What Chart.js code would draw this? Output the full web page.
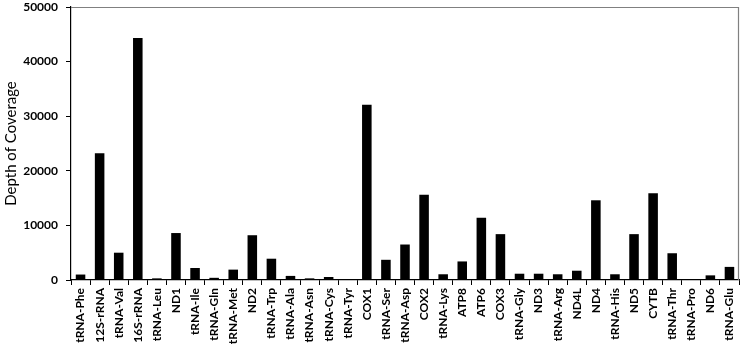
<!DOCTYPE html>
<html>
<head>
<meta charset="utf-8">
<script src="https://cdn.jsdelivr.net/npm/chart.js@4/dist/chart.umd.min.js"></script>
<style>
    html, body { margin: 0; padding: 0; background: #fff; }
    #wrap { width: 743px; height: 345px; position: relative; }
</style>
</head>
<body>
<div id="wrap"><canvas id="myChart" width="743" height="345"></canvas></div>
<script>
const genes = ['tRNA-Phe', '12S-rRNA', 'tRNA-Val', '16S-rRNA', 'tRNA-Leu', 'ND1', 'tRNA-Ile', 'tRNA-Gln',
    'tRNA-Met', 'ND2', 'tRNA-Trp', 'tRNA-Ala', 'tRNA-Asn', 'tRNA-Cys', 'tRNA-Tyr', 'COX1', 'tRNA-Ser',
    'tRNA-Asp', 'COX2', 'tRNA-Lys', 'ATP8', 'ATP6', 'COX3', 'tRNA-Gly', 'ND3', 'tRNA-Arg', 'ND4L', 'ND4',
    'tRNA-His', 'ND5', 'CYTB', 'tRNA-Thr', 'tRNA-Pro', 'ND6', 'tRNA-Glu'];
const coverage = [1000, 23200, 5000, 44300, 300, 8600, 2200, 400,
    1900, 8200, 3900, 750, 300, 550, 0, 32100, 3700,
    6500, 15600, 1050, 3400, 11400, 8400, 1150, 1150, 1050, 1700, 14600,
    1050, 8400, 15900, 4900, 0, 850, 2400];
const yTicks = [0, 10000, 20000, 30000, 40000, 50000];

var myChartObject = document.getElementById('myChart');

// gray frame on top and right of the plot area
const frame = {
    id: 'frame',
    afterDraw(chart) {
        let a = chart.chartArea;
        let ctx = chart.ctx;
        ctx.save();
        ctx.strokeStyle = '#808080';
        ctx.lineWidth = 1.2;
        ctx.beginPath();
        ctx.moveTo(a.left, a.top + 0.5);
        ctx.lineTo(a.right - 0.5, a.top + 0.5);
        ctx.lineTo(a.right - 0.5, a.bottom);
        ctx.stroke();
        ctx.restore();
    }
};

var chart = new Chart(myChartObject, {
    type: 'bar',
    data: {
        labels: genes,
        datasets: [{
            label: 'Depth of Coverage',
            data: coverage,
            backgroundColor: '#000',
            borderWidth: 0,
            barPercentage: 0.5,
            categoryPercentage: 1.0
        }]
    },
    options: {
        responsive: false,
        animation: false,
        layout: { padding: { top: 7, right: 4, left: 0, bottom: 0 } },
        plugins: { legend: { display: false }, tooltip: { enabled: false } },
        scales: {
            x: {
                grid: { display: true, drawOnChartArea: false, color: '#000', tickLength: 5, offset: true },
                border: { color: '#000', width: 1.2 },
                ticks: {
                    color: '#000',
                    font: { family: 'Lato', size: 12, weight: 'bold' },
                    maxRotation: 90, minRotation: 90,
                    autoSkip: false,
                    padding: 3
                },
                afterFit(scale) {
                    scale.height = 65;
                    scale.paddingLeft = 0; scale.paddingRight = 0;
                }
            },
            y: {
                min: 0,
                max: 50000,
                afterBuildTicks(scale) { scale.ticks = yTicks.map(v => ({ value: v })); },
                grid: { display: true, drawOnChartArea: false, color: '#000', tickLength: 5 },
                border: { color: '#000', width: 1.2 },
                ticks: {
                    color: '#000',
                    font: { family: 'Lato', size: 12, weight: 'bold' },
                    padding: 8,
                    callback: (v) => String(v)
                },
                title: {
                    display: true,
                    text: 'Depth of Coverage',
                    color: '#000',
                    font: { family: 'Lato', size: 15 },
                    padding: { top: 2, bottom: 0 }
                },
                afterFit(scale) {
                    scale.width = 71;
                    scale.paddingTop = 0; scale.paddingBottom = 0;
                }
            }
        }
    },
    plugins: [frame]
});
</script>
</body>
</html>
